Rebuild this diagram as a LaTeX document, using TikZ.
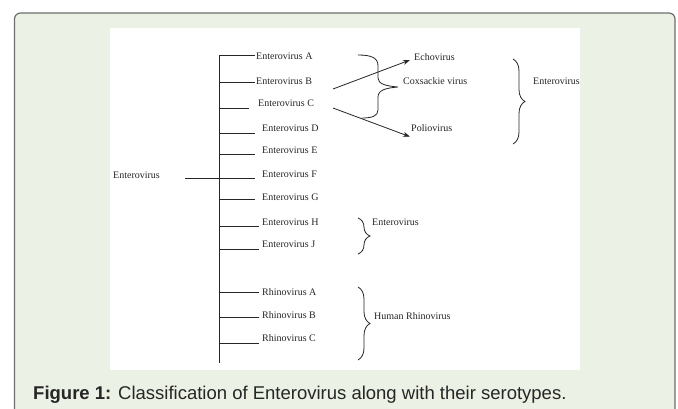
\documentclass[tikz,border=0pt]{standalone}
\usepackage{fontspec}
\setmainfont{Liberation Serif}
\newfontfamily\capfont{Liberation Sans}
\usepackage{tikz}
\usetikzlibrary{positioning,calc,arrows.meta,decorations.pathreplacing}
\definecolor{panelgreen}{RGB}{235,241,228}
\definecolor{framegray}{RGB}{110,110,110}

\begin{document}
\begin{tikzpicture}[x=1pt, y=-1pt,
    lbl/.style={anchor=west, inner sep=1pt, font=\fontsize{10}{12}\selectfont, text=black!85},
    ln/.style={line width=0.8pt, black!85},
    arr/.style={line width=0.8pt, black!85, -{Stealth[length=7pt,width=5pt]}},
    grp/.style={line width=0.8pt, black!85, decorate, decoration={brace, amplitude=12pt}}]
    \useasboundingbox (0,0) rectangle (678,408);
    % frame and white panel
    \filldraw[fill=panelgreen, draw=framegray, line width=1.2pt, rounded corners=6pt] (14.5,13) rectangle (675,430);
    \fill[white] (110,28) rectangle (580,370);

    % labels
    \node[lbl] (root) at (112,175) {Enterovirus};
    \node[lbl] (evA) at (255,56) {Enterovirus A};
    \node[lbl] (evB) at (255,81) {Enterovirus B};
    \node[lbl] (evC) at (257,103) {Enterovirus C};
    \node[lbl] (evD) at (261,128) {Enterovirus D};
    \node[lbl] (evE) at (261,150) {Enterovirus E};
    \node[lbl] (evF) at (261,174) {Enterovirus F};
    \node[lbl] (evG) at (261,197) {Enterovirus G};
    \node[lbl] (evH) at (261,222) {Enterovirus H};
    \node[lbl] (evJ) at (261,244) {Enterovirus J};
    \node[lbl] (rvA) at (261,292) {Rhinovirus A};
    \node[lbl] (rvB) at (261,315) {Rhinovirus B};
    \node[lbl] (rvC) at (261,338) {Rhinovirus C};
    \node[lbl] (echo) at (413,57) {Echovirus};
    \node[lbl] (cox) at (402,81) {Coxsackie virus};
    \node[lbl] (polio) at (410,128) {Poliovirus};
    \node[lbl] (grpE) at (532,81) {Enterovirus};
    \node[lbl] (grpH) at (371,222) {Enterovirus};
    \node[lbl] (grpR) at (373,316) {Human Rhinovirus};

    % trunk and branches
    \coordinate (top) at (219.5,55);
    \coordinate (bot) at (219.5,363);
    \coordinate (rootend) at (185,178);
    \coordinate (eA) at (255,55);
    \coordinate (eB) at (255,82.5);
    \coordinate (eC) at (249,108);
    \coordinate (eD) at (255,133);
    \coordinate (eE) at (255,154);
    \coordinate (eF) at (255,178);
    \coordinate (eG) at (255,199);
    \coordinate (eH) at (259,226);
    \coordinate (eJ) at (259,249);
    \coordinate (eRA) at (259,292);
    \coordinate (eRB) at (259,317);
    \coordinate (eRC) at (259,343);
    \draw[ln] (top) -- (bot);
    \draw[ln] (rootend) -- (eF);
    \draw[ln] (top) -- (eA);
    \draw[ln] (top |- eB) -- (eB);
    \draw[ln] (top |- eC) -- (eC);
    \draw[ln] (top |- eD) -- (eD);
    \draw[ln] (top |- eE) -- (eE);
    \draw[ln] (top |- eG) -- (eG);
    \draw[ln] (top |- eH) -- (eH);
    \draw[ln] (top |- eJ) -- (eJ);
    \draw[ln] (top |- eRA) -- (eRA);
    \draw[ln] (top |- eRB) -- (eRB);
    \draw[ln] (top |- eRC) -- (eRC);

    % arrows to Echovirus and Poliovirus
    \coordinate (forkB) at (333,89);
    \coordinate (forkC) at (333,108);
    \draw[arr] (forkB) -- ([shift={(-3,3)}]echo.west);
    \draw[arr] (forkC) -- ([shift={(0,4)}]polio.south west);

    % brace round Echovirus / Coxsackie
    \draw[ln] (358,55) .. controls (372,55) and (378,58) .. (378,66) -- (378,78)
        .. controls (378,84) and (386,86) .. (398,87)
        .. controls (386,88) and (378,90) .. (378,97) -- (378,110)
        .. controls (378,116) and (372,118) .. (362,118);

    % group braces
    \draw[grp] (513,59) -- (513,144);
    \draw[grp] (358,218) -- (358,254);
    \draw[grp] (358,287) -- (358,360);

    % caption
    \node[anchor=base west, inner sep=0pt, text=black!85, font=\capfont\fontsize{18.5}{21}\selectfont] (caption) at (33,399)
        {\textbf{Figure 1:} Classification of Enterovirus along with their serotypes.};
\end{tikzpicture}
\end{document}
